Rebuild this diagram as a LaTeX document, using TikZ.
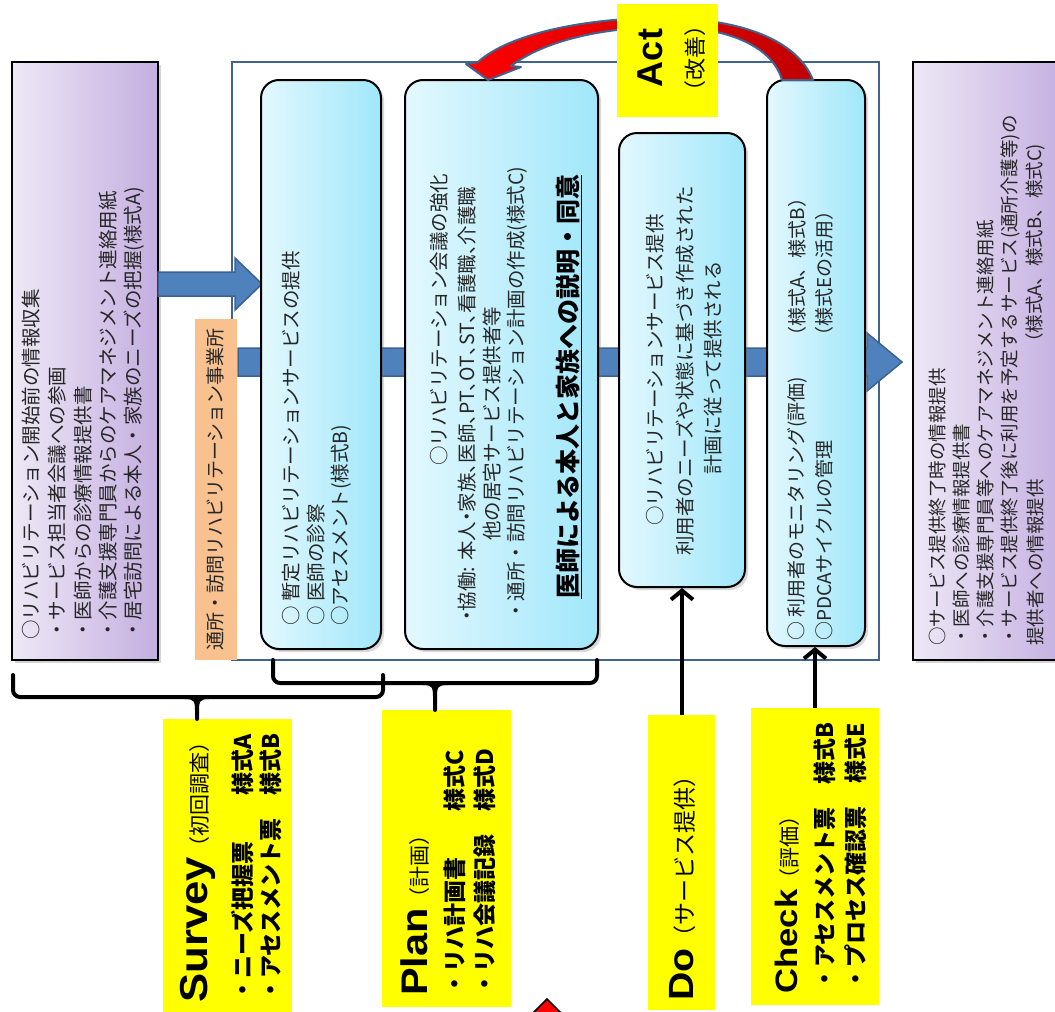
\documentclass[tikz,border=0pt]{standalone}
\usepackage{fontspec}
\setmainfont{Noto Sans CJK JP}
\newfontfamily\latb{Liberation Sans}[FakeStretch=1.12]
\newfontfamily\latn{Liberation Sans}
\usetikzlibrary{arrows.meta,shadows}
\definecolor{frameblue}{HTML}{41648F}
\definecolor{arrowblue}{HTML}{4F81BD}
\definecolor{arrowedge}{HTML}{3B6292}
\definecolor{purL}{HTML}{EEE8F6}
\definecolor{purR}{HTML}{C3AEE0}
\definecolor{cyL}{HTML}{E3F8FE}
\definecolor{cyR}{HTML}{A0E7FA}
\definecolor{orng}{HTML}{F9C18F}
\definecolor{yel}{HTML}{FFFF00}
\definecolor{dred}{HTML}{C00000}
\definecolor{txt}{HTML}{262626}
\begin{document}
\begin{tikzpicture}[x=1pt,y=-1pt,
  pbox/.style={rectangle, draw=black, line width=2.5pt, left color=purL, right color=purR, inner sep=0pt,
    drop shadow={shadow xshift=3pt, shadow yshift=-3pt, opacity=0.35}},
  cbox/.style={rectangle, rounded corners=18pt, draw=black, line width=2pt, left color=cyL, right color=cyR, inner sep=0pt,
    drop shadow={shadow xshift=3pt, shadow yshift=-3pt, opacity=0.3}},
  ybox/.style={rectangle, fill=yel, inner sep=0pt},
  bandarrow/.style={fill=arrowblue, draw=arrowedge, line width=1.5pt, line join=miter},
  vt/.style={rotate=90, inner sep=0pt, anchor=west, text=txt, font=\fontsize{19.5}{22}\selectfont},
  vc/.style={vt, anchor=center},
  vs/.style={vt, font=\fontsize{18.5}{21}\selectfont},
  lbl/.style={rotate=90, inner sep=0pt, anchor=west, text=black, font=\bfseries\fontsize{23}{26}\selectfont},
  brace/.style={black, line width=4pt, rounded corners=7pt, line cap=round},
  upar/.style={black, line width=4pt, -{Straight Barb[length=9pt,width=22pt,line width=4pt]}}
]
\useasboundingbox (0,0) rectangle (1055,1012);

% side boxes
\node[pbox, minimum width=146pt, minimum height=598pt] (L) at (85,361) {};
\node[pbox, minimum width=154pt, minimum height=598pt] (R) at (990,361) {};

% frame
\node[draw=frameblue, line width=2.5pt, minimum width=647pt, minimum height=598pt, inner sep=0pt] (F) at (555.5,361) {};

% orange label
\node[fill=orng, minimum width=42pt, minimum height=341pt, inner sep=0pt] (O) at (216,489.5) {};

% band arrow (orange label -> right box)
\path[bandarrow] (238,348) -- (867,348) -- (867,333) -- (902,362) -- (867,391) -- (867,376) -- (238,376) -- cycle;
% left arrow (left box -> box 1)
\path[bandarrow] (158,272) -- (235,272) -- (235,258) -- (262,284) -- (235,310) -- (235,296) -- (158,296) -- cycle;

% rounded boxes
\node[cbox, minimum width=120pt, minimum height=569pt] (B1) at (321,364.5) {};
\node[cbox, minimum width=193pt, minimum height=569pt] (B2) at (501.5,364.5) {};
\node[cbox, minimum width=126pt, minimum height=454pt] (B3) at (682,360) {};
\node[cbox, minimum width=98pt, minimum height=566pt] (B4) at (816,363) {};

% left box text
\node[vt] (l1) at (31,640) {○リハビリテーション開始前の情報収集};
\node[vt] (l2) at (57,640) {・サービス担当者会議への参画};
\node[vt] (l3) at (83,640) {・医師からの診療情報提供書};
\node[vt] (l4) at (108,640) {・介護支援専門員からのケアマネジメント連絡用紙};
\node[vt] (l5) at (134,640) {・居宅訪問による本人・家族のニーズの把握(様式A)};

% orange text
\node[vt, font=\fontsize{19}{22}\selectfont] (o1) at (215,651) {通所・訪問リハビリテーション事業所};

% box 1 text
\node[vt] (a1) at (291,626) {○ 暫定リハビリテーションサービスの提供};
\node[vt] (a2) at (316,626) {○ 医師の診察};
\node[vt] (a3) at (341,626) {○アセスメント(様式B)};

% box 2 text
\node[vt] (c1) at (439,466) {○リハビリテーション会議の強化};
\node[vt] (c2) at (467,621) {\addfontfeatures{RawFeature=+palt}・協働: 本人・家族、医師、PT、OT、ST、看護職、介護職};
\node[vt] (c3) at (492,541) {他の居宅サービス提供者等};
\node[vt] (c4) at (517,621) {・通所・訪問リハビリテーション計画の作成(様式C)};
\node[vt, text=black, font=\bfseries\fontsize{25}{28}\selectfont] (c5) at (569,599) {\underline{医師による本人と家族への説明・同意}};

% box 3 text
\node[vc] (d1) at (655,370) {○リハビリテーションサービス提供};
\node[vc] (d2) at (685,371) {利用者のニーズや状態に基づき作成された};
\node[vc] (d3) at (713,368) {計画に従って提供される};

% box 4 text
\node[vt, font=\fontsize{19}{22}\selectfont] (e1) at (797,641) {○ 利用者のモニタリング(評価)};
\node[vt, font=\fontsize{19}{22}\selectfont] (e1b) at (797,346) {（様式A、様式B）};
\node[vt, font=\fontsize{19}{22}\selectfont] (e2) at (824,641) {○PDCAサイクルの管理};
\node[vt, font=\fontsize{19}{22}\selectfont] (e2b) at (824,346) {（様式Eの活用）};

% right box text
\node[vs] (r1) at (937,646) {○サービス提供終了時の情報提供};
\node[vs] (r2) at (961.5,646) {・医師への診療情報提供書};
\node[vs] (r3) at (986,646) {・介護支援専門員等へのケアマネジメント連絡用紙};
\node[vs] (r4) at (1010.5,646) {・サービス提供終了後に利用を予定するサービス(通所介護等)の};
\node[vs] (r5) at (1035,646) {提供者への情報提供};
\node[vs] (r6) at (1035,352) {（様式A、様式B、様式C)};

% Act curved arrow
\path[draw=frameblue, line width=2pt, left color=red, right color=dred, line join=round]
  (813,80) .. controls (795,35) and (730,19) .. (668,18)
  .. controls (590,17) and (510,33) .. (478,62)
  -- (466,64) -- (488,80) -- (521,67) -- (511,66)
  .. controls (545,40) and (605,27) .. (668,27)
  .. controls (725,27) and (772,45) .. (782,80) -- cycle;

% Act box
\node[ybox, minimum width=101pt, minimum height=113pt] (A) at (667.5,60.5) {};
\node[rotate=90, inner sep=0pt, font=\latn\bfseries\fontsize{36}{40}\selectfont] (at1) at (650,58) {Act};
\node[rotate=90, inner sep=0pt, font=\fontsize{22}{24}\selectfont] (at2) at (695,58) {（改善）};

% yellow labels
\node[ybox, minimum width=129pt, minimum height=300pt] (S) at (227.5,869) {};
\node[ybox, minimum width=129pt, minimum height=297pt] (P) at (446.5,858.5) {};
\node[ybox, minimum width=67pt, minimum height=295pt] (D) at (681.5,862.5) {};
\node[ybox, minimum width=128pt, minimum height=297pt] (C) at (815,856.5) {};

\node[lbl] (s1) at (198,1003) {{\latb\bfseries\fontsize{39}{42}\selectfont Survey}{\mdseries\fontsize{21}{24}\selectfont （初回調査）}};
\node[lbl] (s2) at (243,1002) {・ニーズ把握票　　様式A};
\node[lbl] (s3) at (271,1002) {・アセスメント票　様式B};

\node[lbl] (p1) at (415,996) {{\latb\bfseries\fontsize{37}{40}\selectfont Plan}{\mdseries\fontsize{21}{24}\selectfont （計画）}};
\node[lbl] (p2) at (455,996) {・リハ計画書　　様式C};
\node[lbl] (p3) at (485,996) {・リハ会議記録　様式D};

\node[lbl] (q1) at (683,1001) {{\latb\bfseries\fontsize{35}{38}\selectfont Do}{\mdseries\fontsize{23}{26}\selectfont （サービス提供）}};

\node[lbl] (k1) at (787,994) {{\latb\bfseries\fontsize{31}{34}\selectfont Check}{\mdseries\fontsize{21}{24}\selectfont （評価）}};
\node[lbl] (k2) at (825,991) {・アセスメント票　様式B};
\node[lbl] (k3) at (856,991) {・プロセス確認票　様式E};

% arrows into boxes
\draw[upar] (D.north -| B3.south) -- (B3.south);
\draw[upar] (C.north) -- (C.north |- B4.south);

% braces
\coordinate (sv) at (197,719);
\coordinate (pv) at (435,710);
\draw[brace] (13,675) -- (13,697) -- (383,697) -- (383,675);
\draw[black, line width=4pt, line cap=round] (185,697) .. controls (195,697) and (197,700) .. (197,710) -- (sv);
\draw[black, line width=4pt, line cap=round] (209,697) .. controls (199,697) and (197,700) .. (197,710);
\draw[brace] (273,660) -- (273,683) -- (597,683) -- (597,660);
\draw[black, line width=4pt, line cap=round] (423,683) .. controls (433,683) and (435,686) .. (435,696) -- (pv);
\draw[black, line width=4pt, line cap=round] (447,683) .. controls (437,683) and (435,686) .. (435,696);

% red diamond at bottom edge
\path[fill=red, draw=black, line width=1.5pt] (547,999) -- (563,1015) -- (547,1031) -- (531,1015) -- cycle;
\end{tikzpicture}
\end{document}
